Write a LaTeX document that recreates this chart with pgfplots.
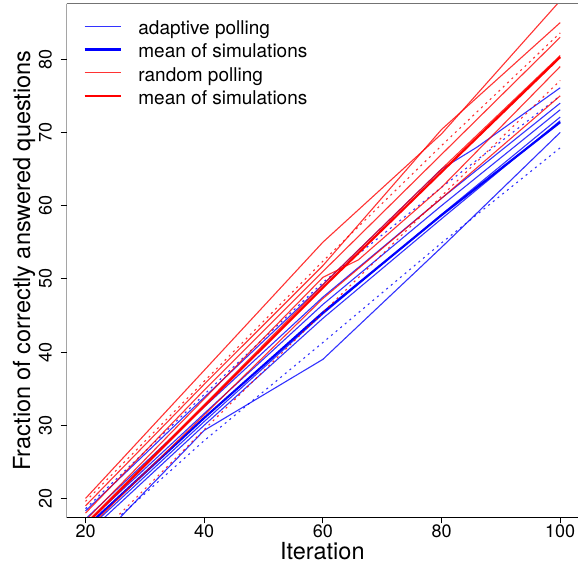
\documentclass[border=0pt]{standalone}
\usepackage{fontspec}
\setmainfont{TeX Gyre Heros}
\usepackage{pgfplots}
\pgfplotsset{compat=1.18}
\definecolor{rblue}{RGB}{0,0,255}
\definecolor{rred}{RGB}{255,0,0}
\begin{document}
\begin{tikzpicture}
\useasboundingbox (-66.7pt,-46.5pt) rectangle (511.3pt,517.5pt);
\begin{axis}[
  at={(0pt,0pt)}, anchor=south west,
  scale only axis, width=511.3pt, height=513.9pt,
  xmin=16.83, xmax=103.0, ymin=17.4, ymax=87.6,
  xtick={20,40,60,80,100}, ytick={20,30,...,80},
  axis line style={draw=none},
  tick pos=left, tick align=outside, major tick length=6pt,
  tick style={black, line width=1pt},
  /pgf/number format/assume math mode=true,
  tick label style={font=\fontsize{18}{18}\selectfont, inner sep=0pt},
  x tick label style={anchor=north, yshift=-1.2pt},
  y tick label style={rotate=90, anchor=base, yshift=9.1pt},
  xlabel={Iteration},
  xlabel style={at={(axis description cs:0.5,0)}, anchor=base, yshift=-42.3pt,
    inner sep=0pt, font=\fontsize{23.5}{23.5}\selectfont},
  ylabel={Fraction of correctly answered questions},
  ylabel style={at={(axis description cs:0,0.5)}, anchor=base, yshift=36.6pt,
    inner sep=0pt, font=\fontsize{23.5}{23.5}\selectfont},
  legend cell align=left,
  legend image code/.code={\draw[#1] (0pt,3.45pt) -- (36pt,3.45pt);},
  legend style={at={(axis description cs:0,1)}, anchor=north west,
    xshift=16.6pt, yshift=-17.0pt, draw=none, fill=none, inner sep=0pt,
    row sep=5.63pt, column sep=16.7pt,
    nodes={inner sep=0pt, text height=13.7pt, text depth=4pt,
      font=\fontsize{19}{19}\selectfont}},
  thin run/.style={line width=1.1pt, opacity=0.8},
  sd run/.style={line width=1.1pt, opacity=0.8, dash pattern=on 2pt off 4pt},
  mean run/.style={line width=2.2pt},
]
% adaptive polling: single simulations
\addplot[rblue, thin run] coordinates {(20,18.3) (40,33.8) (60,49.2) (80,65.0) (86,68.0) (100,76.1)};
\addlegendentry{adaptive polling}
\addplot[rblue, thin run, forget plot] coordinates {(20,17.2) (40,32.5) (60,47.5) (80,61.0) (100,74.0)};
\addplot[rblue, thin run, forget plot] coordinates {(20,16.5) (40,31.6) (60,46.5) (80,60.0) (100,73.1)};
\addplot[rblue, thin run, forget plot] coordinates {(20,15.5) (40,30.5) (60,45.2) (80,58.8) (100,72.1)};
\addplot[rblue, thin run, forget plot] coordinates {(20,12.5) (40,29.3) (60,39.0) (80,54.3) (100,70.0)};
\addplot[rblue, thin run, forget plot] coordinates {(20,15.0) (40,30.0) (60,44.6) (80,58.2) (100,71.6)};
% adaptive polling: mean +/- one standard deviation
\addplot[rblue, sd run, forget plot] coordinates {(20,18.6) (40,34.2) (60,49.5) (80,62.5) (100,75.0)};
\addplot[rblue, sd run, forget plot] coordinates {(20,13.4) (40,27.9) (60,41.3) (80,54.9) (100,67.9)};
% adaptive polling: mean
\addplot[rblue, mean run] coordinates {(20,16.0) (40,31.0) (60,45.4) (80,58.7) (100,71.4)};
\addlegendentry{mean of simulations}
% random polling: single simulations
\addplot[rred, thin run] coordinates {(20,20.0) (40,37.5) (60,55.0) (80,69.8) (100,88.0)};
\addlegendentry{random polling}
\addplot[rred, thin run, forget plot] coordinates {(20,19.0) (40,35.6) (60,51.8) (80,70.4) (100,85.0)};
\addplot[rred, thin run, forget plot] coordinates {(20,18.0) (40,34.8) (60,51.0) (80,67.0) (100,83.0)};
\addplot[rred, thin run, forget plot] coordinates {(20,17.0) (40,33.6) (60,50.2) (66,52.6) (80,62.5) (100,79.0)};
\addplot[rred, thin run, forget plot] coordinates {(20,16.6) (40,32.8) (60,49.2) (80,65.0) (100,80.5)};
\addplot[rred, thin run, forget plot] coordinates {(20,15.6) (40,31.4) (60,47.3) (80,61.0) (100,75.0)};
% random polling: mean +/- one standard deviation
\addplot[rred, sd run, forget plot] coordinates {(20,19.6) (40,36.0) (60,52.4) (80,68.2) (100,83.6)};
\addplot[rred, sd run, forget plot] coordinates {(20,13.2) (40,29.4) (60,45.4) (80,61.3) (100,77.1)};
% random polling: mean
\addplot[rred, mean run] coordinates {(20,16.4) (40,32.6) (60,48.8) (80,64.6) (100,80.3)};
\addlegendentry{mean of simulations}
% frame: left and bottom in black, top in grey
\draw[black, line width=1pt] (rel axis cs:0,1) -- (rel axis cs:0,0) -- (rel axis cs:1,0);
\draw[black!55, line width=1pt] (rel axis cs:0,1) -- (rel axis cs:1,1);
\end{axis}
\end{tikzpicture}
\end{document}
